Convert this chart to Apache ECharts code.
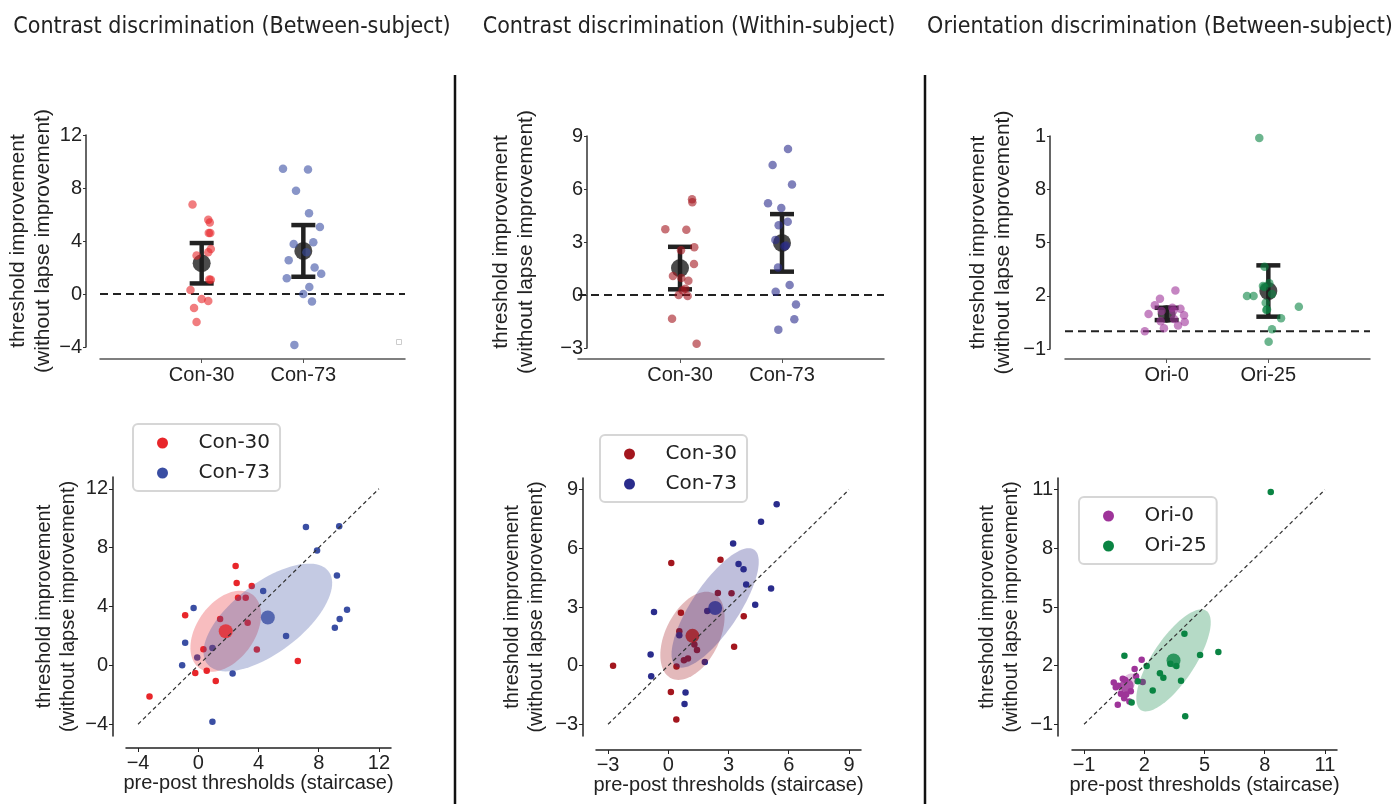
<!DOCTYPE html>
<html>
<head>
<meta charset="utf-8">
<script src="https://cdn.jsdelivr.net/npm/echarts@6/dist/echarts.min.js"></script>
<style>
  html, body { margin: 0; padding: 0; background: #fff; }
  #main { width: 1392px; height: 804px; }
</style>
</head>
<body>
<div id="main"></div>
<script>
// ---- data: threshold improvement, pre-post staircase thresholds, strip jitter ----
// Contrast discrimination, between-subject
const c30bImp = [6.75, 5.6, 5.4, 4.6, 4.6, 3.4, 3.15, 2.9, 1.1, 1.08, 0.3, -0.37, -0.52, -1.06, -2.12];
const c30bStair = [2.48, 2.55, 3.55, 2.64, 3.15, -0.87, 1.45, 3.28, 0.34, 3.89, 6.61, 0.56, -0.2, 1.16, -3.24];
const c30bJit = [-0.09, 0.065, 0.08, 0.07, 0.085, 0.09, 0.065, -0.05, 0.075, 0.09, -0.11, 0.0, 0.065, -0.075, -0.05];
const c73bImp = [9.45, 9.4, 7.8, 6.1, 5.05, 3.9, 3.78, 3.15, 2.55, 2.0, 1.53, 1.18, 0.53, 0.0, -0.56, -3.84];
const c73bStair = [9.36, 7.15, 7.89, 9.21, 4.31, -0.31, 9.88, 9.39, 9.07, 5.83, -0.87, 0.94, -0.07, -1.07, 2.28, 0.94];
const c73bJit = [-0.2, 0.046, -0.072, 0.056, 0.163, 0.098, -0.095, 0.03, -0.144, 0.111, 0.176, -0.163, 0.059, 0.0, 0.085, -0.088];
// Contrast discrimination, within-subject
const c30wImp = [5.42, 5.25, 3.72, 3.7, 2.7, 2.53, 1.76, 1.08, 0.96, 0.8, 0.36, 0.27, 0.0, -0.05, -1.35, -2.76];
const c30wStair = [2.6, 0.15, 2.47, 3.15, 0.63, 3.76, 0.55, 1.3, 3.28, 1.43, 0.98, 0.78, -2.75, 0.41, 0.13, 0.4];
const c30wJit = [0.118, 0.121, -0.144, 0.062, 0.14, 0.01, 0.137, -0.069, 0.013, 0.082, 0.052, 0.026, -0.013, 0.075, -0.078, 0.163];
const c73wImp = [8.26, 7.36, 6.25, 5.2, 4.93, 4.15, 3.95, 3.12, 2.8, 2.74, 1.56, 0.57, 0.18, -0.54, -1.37, -1.96];
const c73wStair = [5.4, 4.62, 3.23, 3.5, 3.75, 3.88, 5.12, 4.33, 1.94, -0.71, 0.55, -0.88, 1.82, -0.85, 0.86, 0.81];
const c73wJit = [0.059, -0.092, 0.098, -0.137, -0.007, 0.056, -0.033, -0.065, 0.039, 0.023, -0.039, 0.075, -0.062, 0.137, 0.121, -0.036];
// Orientation discrimination, between-subject
const o0Imp = [2.3, 1.83, 1.46, 1.33, 1.27, 1.16, 1.14, 0.97, 0.9, 0.69, 0.56, 0.52, 0.33, 0.17, 0.0];
const o0Stair = [1.87, 1.52, 1.59, 0.93, 1.05, 1.92, 0.48, 0.7, 0.58, 1.33, 0.84, 1.1, 1.0, 1.26, 0.68];
const o0Jit = [0.086, -0.066, -0.116, 0.056, 0.136, 0.066, -0.05, -0.178, 0.171, 0.072, -0.059, 0.178, 0.112, -0.027, -0.215];
const o25Imp = [10.89, 3.63, 2.7, 2.55, 2.5, 2.1, 1.98, 1.98, 1.61, 1.38, 1.23, 1.2, 0.73, 0.11, -0.59];
const o25Stair = [8.3, 4.0, 5.69, 4.78, 1.01, 3.3, 2.12, 3.6, 2.78, 2.95, 3.83, 1.67, 2.42, 1.37, 4.04];
const o25Jit = [-0.089, -0.037, 0.01, -0.053, -0.04, 0.036, -0.21, -0.145, -0.026, 0.3, -0.013, -0.02, 0.125, 0.036, 0.003];

// tick values and labels
const conBTopTicks = [-4, 0, 4, 8, 12];
const conWTopTicks = [-3, 0, 3, 6, 9];
const oriTopTicks = [-1, 2, 5, 8, 11];
const oriTopTickLabels = ['\u22121', '2', '5', '8', '1'];
const conBScatTicks = [-4, 0, 4, 8, 12];
const conWScatTicks = [-3, 0, 3, 6, 9];
const oriScatTicks = [-1, 2, 5, 8, 11];

const titles = [
  'Contrast discrimination (Between-subject)',
  'Contrast discrimination (Within-subject)',
  'Orientation discrimination (Between-subject)'
];
const yName = 'threshold improvement\n(without lapse improvement)';
const xName = 'pre-post thresholds (staircase)';
const tCrit = { 14: 2.145, 15: 2.131 }; // 95% t critical values by df

// ---- stats helpers ----
function mean(a) { return a.reduce((s, v) => s + v, 0) / a.length; }
function sd(a) {
  const m = mean(a);
  return Math.sqrt(a.reduce((s, v) => s + (v - m) * (v - m), 0) / (a.length - 1));
}
function cov(a, b) {
  const ma = mean(a), mb = mean(b);
  return a.reduce((s, v, i) => s + (v - ma) * (b[i] - mb), 0) / (a.length - 1);
}
function ci95(a) {
  const h = tCrit[a.length - 1] * sd(a) / Math.sqrt(a.length);
  return [mean(a) - h, mean(a) + h];
}
// 1-sd covariance ellipse (same construction as matplotlib's confidence_ellipse)
function ellipsePts(xs, ys) {
  const mx = mean(xs), my = mean(ys), sx = sd(xs), sy = sd(ys);
  const r = cov(xs, ys) / (sx * sy);
  const a = Math.sqrt(1 + r), b = Math.sqrt(1 - r);
  const pts = [];
  for (let k = 0; k < 90; k++) {
    const t = 2 * Math.PI * k / 90;
    const u = a * Math.cos(t), v = b * Math.sin(t);
    pts.push([mx + sx * (u - v) / Math.SQRT2, my + sy * (u + v) / Math.SQRT2]);
  }
  return pts;
}
const minus = v => String(v).replace('-', '\u2212');

const groups = [
  [
    { name: 'Con-30', color: '#e8262a', imp: c30bImp, stair: c30bStair, jit: c30bJit },
    { name: 'Con-73', color: '#3a4ea3', imp: c73bImp, stair: c73bStair, jit: c73bJit }
  ],
  [
    { name: 'Con-30', color: '#a3161e', imp: c30wImp, stair: c30wStair, jit: c30wJit },
    { name: 'Con-73', color: '#2a2c8c', imp: c73wImp, stair: c73wStair, jit: c73wJit }
  ],
  [
    { name: 'Ori-0', color: '#9e3499', imp: o0Imp, stair: o0Stair, jit: o0Jit },
    { name: 'Ori-25', color: '#0a8443', imp: o25Imp, stair: o25Stair, jit: o25Jit }
  ]
];

// layout (pixels)
const topLay = [
  { left: 100, top: 135, width: 305, height: 212, yOff: 14, xOff: 12, gap: 30, ticks: conBTopTicks, labels: null },
  { left: 578, top: 136, width: 306, height: 212, yOff: -9, xOff: 11, gap: 48, ticks: conWTopTicks, labels: null },
  { left: 1065, top: 136, width: 305, height: 213, yOff: 15, xOff: 10, gap: 34, ticks: oriTopTicks, labels: oriTopTickLabels }
];
const botLay = [
  { left: 126, top: 477, width: 265, height: 259, yOff: 13, xOff: 12, gap: 33, xGap: 25, ticks: conBScatTicks, leg: [133, 424] },
  { left: 596, top: 478, width: 265, height: 258, yOff: 13, xOff: 14, gap: 35, xGap: 23, ticks: conWScatTicks, leg: [600, 435] },
  { left: 1072, top: 478, width: 265, height: 258, yOff: 14, xOff: 14, gap: 35, xGap: 23, ticks: oriScatTicks, leg: [1079, 497] }
];

const FONT = "'Liberation Sans', Arial, sans-serif";
const grid = [], xAxis = [], yAxis = [], series = [], legend = [];

topLay.forEach((L, p) => {
  const gs = groups[p];
  grid.push({ left: L.left, top: L.top, width: L.width, height: L.height });
  xAxis.push({
    type: 'value', gridIndex: p, min: -1, max: 2, offset: L.xOff,
    axisLine: { onZero: false, lineStyle: { color: '#555', width: 1.5 } },
    axisTick: { customValues: [0, 1], length: 4, lineStyle: { color: '#555' } },
    axisLabel: { customValues: [0, 1], formatter: v => gs[v].name, fontSize: 20, color: '#222', fontFamily: FONT, margin: 6 },
    splitLine: { show: false }
  });
  yAxis.push({
    type: 'value', gridIndex: p, min: L.ticks[0], max: L.ticks[L.ticks.length - 1], offset: L.yOff,
    name: yName, nameLocation: 'middle', nameRotate: 90, nameGap: L.gap,
    nameTextStyle: { fontSize: 21, lineHeight: 25, color: '#222', fontFamily: FONT },
    axisLine: { show: true, onZero: false, lineStyle: { color: '#333', width: 1.5 } },
    axisTick: { show: true, customValues: L.ticks, length: 3, lineStyle: { color: '#333' } },
    axisLabel: {
      customValues: L.ticks, fontSize: 20, color: '#222', fontFamily: FONT, margin: 4,
      formatter: v => L.labels ? L.labels[L.ticks.indexOf(v)] : minus(v)
    },
    splitLine: { show: false }
  });
  series.push({
    type: 'line', xAxisIndex: p, yAxisIndex: p, data: [[-1, 0], [2, 0]], symbol: 'none', silent: true, z: 1,
    lineStyle: { color: '#222', width: 2, type: [8, 5] }
  });
  series.push({
    type: 'custom', xAxisIndex: p, yAxisIndex: p, z: 3, silent: true,
    data: gs.map((g, k) => [k].concat(ci95(g.imp))),
    encode: { x: 0, y: [1, 2] },
    renderItem: (params, api) => {
      const x = api.value(0);
      const lo = api.coord([x, api.value(1)]), hi = api.coord([x, api.value(2)]);
      const w = 12, st = { stroke: '#222', lineWidth: 4.5 };
      return {
        type: 'group', children: [
          { type: 'line', shape: { x1: lo[0], y1: lo[1], x2: hi[0], y2: hi[1] }, style: st },
          { type: 'line', shape: { x1: lo[0] - w, y1: lo[1], x2: lo[0] + w, y2: lo[1] }, style: st },
          { type: 'line', shape: { x1: hi[0] - w, y1: hi[1], x2: hi[0] + w, y2: hi[1] }, style: st }
        ]
      };
    }
  });
  series.push({
    type: 'scatter', xAxisIndex: p, yAxisIndex: p, z: 4, silent: true, symbolSize: 18,
    itemStyle: { color: '#1e1e1e' },
    data: gs.map((g, k) => [k, mean(g.imp)])
  });
  gs.forEach((g, k) => {
    series.push({
      type: 'scatter', xAxisIndex: p, yAxisIndex: p, z: 5, silent: true, symbolSize: 8.5,
      itemStyle: { color: g.color, opacity: 0.6 },
      data: g.imp.map((v, j) => [k + g.jit[j], v])
    });
  });
});

botLay.forEach((L, q) => {
  const gs = groups[q];
  const idx = q + 3;
  const t0 = L.ticks[0], t1 = L.ticks[L.ticks.length - 1];
  const pad = 0.05 * (t1 - t0);
  grid.push({ left: L.left, top: L.top, width: L.width, height: L.height });
  xAxis.push({
    type: 'value', gridIndex: idx, min: t0 - pad, max: t1 + pad, offset: L.xOff,
    name: xName, nameLocation: 'middle', nameGap: L.xGap,
    nameTextStyle: { fontSize: 20, color: '#222', fontFamily: FONT },
    axisLine: { onZero: false, lineStyle: { color: '#222', width: 1.5 } },
    axisTick: { customValues: L.ticks, length: 4, lineStyle: { color: '#222' } },
    axisLabel: { customValues: L.ticks, formatter: minus, fontSize: 20, color: '#222', fontFamily: FONT, margin: 5 },
    splitLine: { show: false }
  });
  yAxis.push({
    type: 'value', gridIndex: idx, min: t0 - pad, max: t1 + pad, offset: L.yOff,
    name: yName, nameLocation: 'middle', nameRotate: 90, nameGap: L.gap,
    nameTextStyle: { fontSize: 20, lineHeight: 24, color: '#222', fontFamily: FONT },
    axisLine: { show: true, onZero: false, lineStyle: { color: '#222', width: 1.5 } },
    axisTick: { show: true, customValues: L.ticks, length: 4, lineStyle: { color: '#222' } },
    axisLabel: { customValues: L.ticks, formatter: minus, fontSize: 20, color: '#222', fontFamily: FONT, margin: 5 },
    splitLine: { show: false }
  });
  gs.forEach(g => {
    series.push({
      name: g.name, type: 'scatter', xAxisIndex: idx, yAxisIndex: idx, z: 2, silent: true, symbolSize: 6.5,
      itemStyle: { color: g.color, opacity: 1 },
      data: g.stair.map((x, j) => [x, g.imp[j]])
    });
  });
  gs.forEach(g => {
    const pts = ellipsePts(g.stair, g.imp);
    series.push({
      type: 'custom', xAxisIndex: idx, yAxisIndex: idx, z: 3, silent: true,
      data: [[mean(g.stair), mean(g.imp)]],
      renderItem: (params, api) => ({
        type: 'polygon',
        shape: { points: pts.map(pt => api.coord(pt)) },
        style: { fill: g.color, opacity: 0.3 }
      })
    });
  });
  series.push({
    type: 'scatter', xAxisIndex: idx, yAxisIndex: idx, z: 4, silent: true, symbolSize: 14,
    data: gs.map(g => ({ value: [mean(g.stair), mean(g.imp)], itemStyle: { color: g.color } }))
  });
  series.push({
    type: 'line', xAxisIndex: idx, yAxisIndex: idx, z: 6, silent: true, symbol: 'none',
    data: [[t0, t0], [t1, t1]],
    lineStyle: { color: '#333', width: 1.2, type: [4, 3] }
  });
  legend.push({
    left: L.leg[0], top: L.leg[1], orient: 'vertical', icon: 'circle',
    itemWidth: 22, itemHeight: 11, itemGap: 8,
    padding: [8, 10, 7, 24],
    backgroundColor: '#fff', borderColor: '#d6d6d6', borderWidth: 2, borderRadius: 5,
    selectedMode: false,
    textStyle: { fontSize: 20, lineHeight: 22, color: '#222', fontFamily: "'DejaVu Sans', sans-serif", padding: [0, 0, 0, 20] },
    data: gs.map(g => ({ name: g.name, itemStyle: { color: g.color } }))
  });
});

const graphic = titles.map((t, i) => ({
  type: 'text', x: [232, 689, 1160][i], y: 27,
  style: {
    text: t, fill: '#222', fontSize: 23, fontFamily: "'DejaVu Sans Condensed', 'Liberation Sans Narrow', sans-serif",
    align: 'center', verticalAlign: 'middle'
  }
}));
[455, 925].forEach(x => graphic.push({
  type: 'line', shape: { x1: x, y1: 75, x2: x, y2: 804 }, style: { stroke: '#111', lineWidth: 2.5 }
}));
graphic.push({ type: 'rect', shape: { x: 396.5, y: 339.5, width: 5, height: 5 }, style: { fill: '#fff', stroke: '#ccc', lineWidth: 1 } });

const chart = echarts.init(document.getElementById('main'));
chart.setOption({
  animation: false,
  backgroundColor: '#fff',
  grid, xAxis, yAxis, series, legend, graphic
});
window.addEventListener('resize', () => chart.resize());
</script>
</body>
</html>
